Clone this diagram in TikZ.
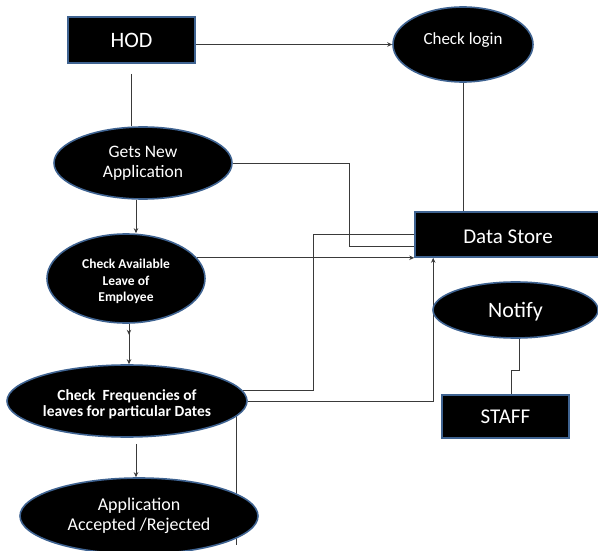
\documentclass[tikz,border=0pt]{standalone}
\usepackage{fontspec}
\setmainfont{Carlito}
\usetikzlibrary{shapes.geometric,arrows.meta,calc}
\definecolor{edgeblue}{HTML}{3F6391}
\definecolor{linegrey}{HTML}{3A3A3A}
\pgfdeclarelayer{bg}
\pgfsetlayers{bg,main}
\begin{document}
\begin{tikzpicture}[x=1pt,y=-1pt,
  proc/.style={ellipse, draw=edgeblue, fill=black, line width=1.6pt, inner sep=0pt, text=white, align=center},
  ent/.style={rectangle, draw=edgeblue, fill=black, line width=1.6pt, inner sep=0pt, text=white, align=center},
  conn/.style={draw=linegrey, line width=0.8pt},
  arr/.style={conn, -{Stealth[length=5pt,width=4.5pt]}}]
\useasboundingbox (0,0) rectangle (598,551);

% nodes
\node[ent, minimum width=127pt, minimum height=46pt, font=\fontsize{22}{26}\selectfont] (hod) at (131.5,40) {HOD};
\node[proc, minimum width=140pt, minimum height=75pt,
  label={[text=white, font=\fontsize{17}{20}\selectfont, yshift=4pt]center:Check login}] (login) at (463,44.5) {};
\node[proc, minimum width=178pt, minimum height=72pt, font=\fontsize{17.5}{20}\selectfont] (gets) at (143,163) {Gets New\\Application};
\node[proc, minimum width=158pt, minimum height=89pt,
  label={[text=white, align=center, font=\bfseries\fontsize{13.5}{16.5}\selectfont, yshift=-3pt]center:Check Available\\Leave of\\Employee}] (avail) at (126,278.5) {};
\node[proc, minimum width=240pt, minimum height=72pt,
  label={[text=white, align=center, font=\bfseries\fontsize{15.5}{16}\selectfont, yshift=-3.5pt]center:Check\ \ Frequencies of\\leaves for particular Dates}] (freq) at (127,401) {};
\node[proc, minimum width=238pt, minimum height=76pt, font=\fontsize{18}{20.5}\selectfont] (app) at (139,516) {Application\\Accepted /Rejected};
\node[ent, minimum width=186pt, minimum height=45pt,
  label={[text=white, font=\fontsize{21}{24}\selectfont, yshift=-2.5pt]center:Data Store}] (ds) at (508,234.5) {};
\node[proc, minimum width=165pt, minimum height=56pt,
  label={[text=white, font=\fontsize{22}{26}\selectfont, yshift=-2pt]center:Notify}] (notify) at (515.5,310) {};
\node[ent, minimum width=127pt, minimum height=43pt, font=\fontsize{21}{24}\selectfont] (staff) at (505.5,416.5) {STAFF};

% helper coordinates
\coordinate (j1) at (349,165);
\coordinate (j2) at (313,0);
\coordinate (c3) at (235,545);
\coordinate (dsw2) at ($(ds.west)+(0,11.5)$);
\coordinate (dsb) at ($(ds.south west)+(19,0)$);
\coordinate (a1) at ($(gets.south)+(-7,0)$);
\coordinate (a2) at ($(avail.south)+(3,0)$);
\coordinate (a3) at ($(freq.south)+(9,6)$);
\coordinate (h1) at ($(hod.south)+(0,10)$);
\coordinate (n1) at ($(notify.south)+(3.5,0)$);
\coordinate (s1) at ($(staff.north)+(5.5,0)$);

\begin{pgfonlayer}{bg}
\draw[arr] (login.west -| hod.east) -- (login.west);
\draw[conn] (h1) -- (h1 |- gets.north);
\draw[conn] (login.south) -- (login.south |- ds.north);
\draw[arr] (a1) -- (a1 |- avail.north);
\draw[conn] (gets.east) -| (j1 |- dsw2) -- (dsw2);
\draw[arr] (avail.16 |- ds.south west) -- (ds.south west);
\draw[arr] (a2) -- ++(0,11);
\draw[arr] (a2) -- (a2 |- freq.north);
\draw[conn] (freq.5) -| (j2 |- ds.west) -- (ds.west);
\draw[arr] (freq.east) -| (dsb);
\draw[conn] (freq.-8) -- (freq.-8 |- c3);
\draw[arr] (a3) -- (a3 |- app.north);
\draw[conn] (n1) -- ++(0,32) -| (s1);
\end{pgfonlayer}
\end{tikzpicture}
\end{document}
